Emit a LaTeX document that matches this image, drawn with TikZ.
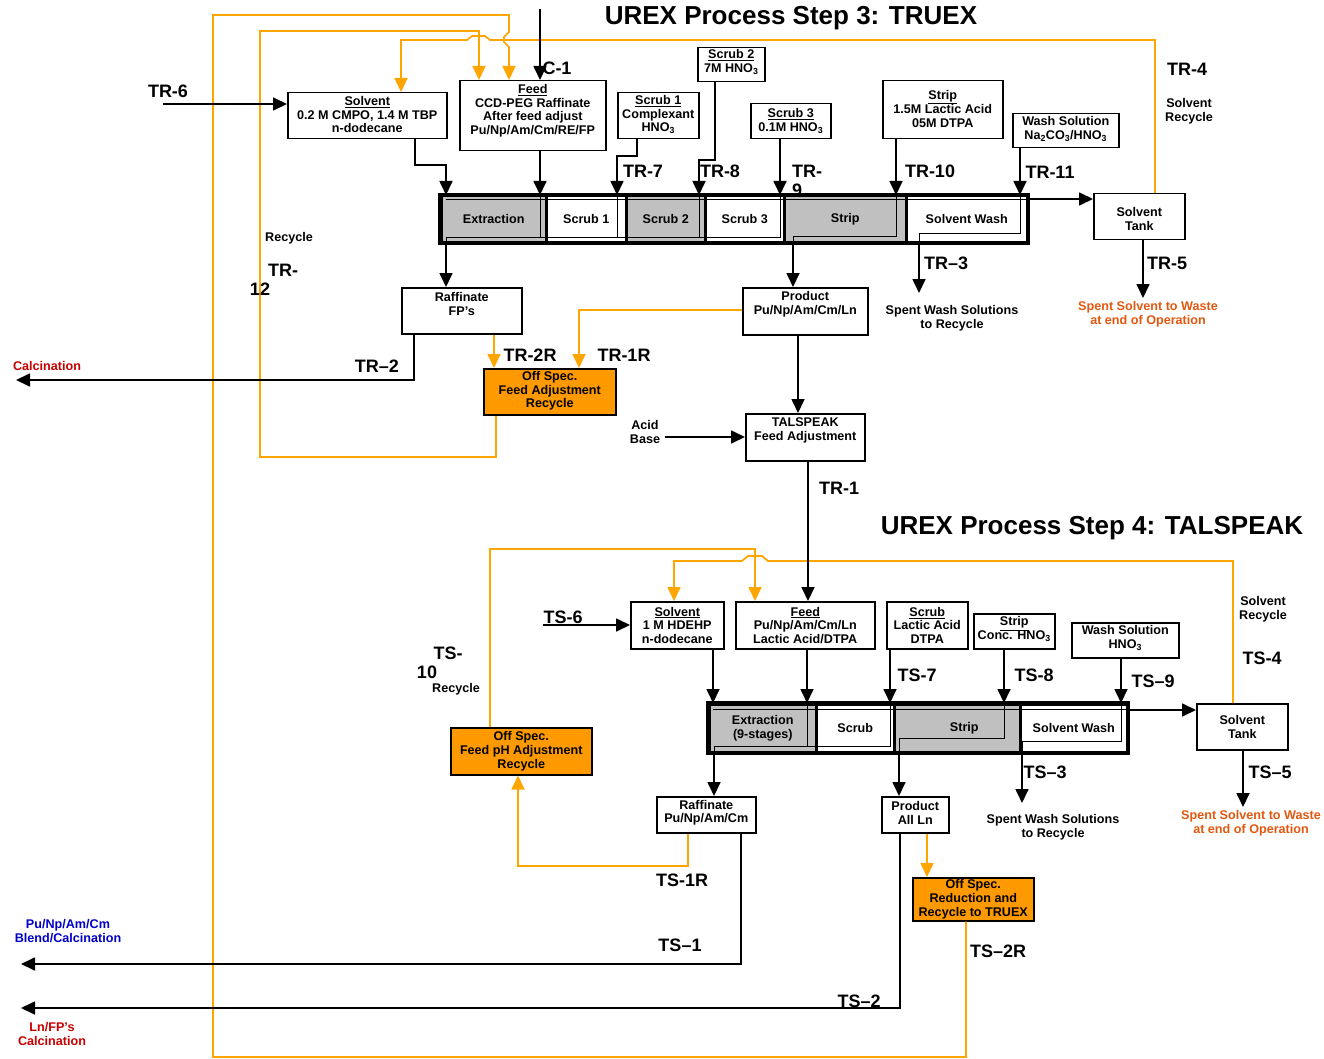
\documentclass[tikz,border=0pt]{standalone}
\usepackage{fontspec}
\setmainfont{Liberation Sans}
\usetikzlibrary{arrows.meta}
\definecolor{orng}{RGB}{255,165,0}
\definecolor{orfill}{RGB}{255,153,0}
\definecolor{bankgray}{RGB}{192,192,192}
\definecolor{wastecol}{RGB}{226,88,16}
\definecolor{calcred}{RGB}{200,0,0}
\definecolor{calcblue}{RGB}{0,0,200}
\newcommand\pbox[8][box]{%
  \node[#1, minimum width=#5pt, minimum height=#6pt, anchor=north west] (#2) at (#3,#4) {};
  \node[btxt] at ([yshift=#7pt]#2.center) {#8};}
\begin{document}
\begin{tikzpicture}[x=1pt,y=-1pt,
  box/.style={draw=black, line width=1.5pt, fill=white, inner sep=0pt},
  offbox/.style={box, fill=orfill},
  btxt/.style={font=\bfseries\fontsize{12.6}{13.6}\selectfont, align=center, inner sep=0pt},
  lbl/.style={font=\bfseries\fontsize{18}{18}\selectfont, inner sep=0pt},
  ttl/.style={font=\bfseries\fontsize{26}{26}\selectfont, inner sep=0pt},
  seg/.style={draw=black, line width=2.5pt, inner sep=0pt, anchor=north west, btxt},
  gseg/.style={seg, fill=bankgray},
  wseg/.style={seg, fill=white},
  flow/.style={draw=black, line width=1.7pt, -{Triangle[length=14pt,width=13pt]}},
  oflow/.style={draw=orng, line width=1.7pt, -{Triangle[length=14pt,width=13pt]}},
  thinflow/.style={draw=black, line width=0.8pt},
]
\useasboundingbox (0,0) rectangle (1324,1059);
\fill[white] (0,0) rectangle (1324,1059);

% ---------------- titles
\node[ttl] (title3) at (791,18) {UREX Process Step 3: TRUEX};
\node[ttl] (title4) at (1092,528) {UREX Process Step 4: TALSPEAK};

% ---------------- TRUEX boxes
\pbox{trsolv}{287}{92}{159}{46}{1}{\underline{Solvent}\\0.2 M CMPO, 1.4 M TBP\\n-dodecane}
\pbox{trfeed}{459}{80}{146}{70}{5}{\underline{Feed}\\CCD-PEG Raffinate\\After feed adjust\\Pu/Np/Am/Cm/RE/FP}
\pbox{trscra}{617}{92}{81}{46}{1}{\underline{Scrub 1}\\Complexant\\HNO\textsubscript{3}}
\pbox{trscrb}{697}{47}{67}{34}{3}{\underline{Scrub 2}\\7M HNO\textsubscript{3}}
\pbox{trscrc}{750}{103}{80}{35}{0}{\underline{Scrub 3}\\0.1M HNO\textsubscript{3}}
\pbox{trstrip}{882}{80}{120}{58}{1}{\underline{Strip}\\1.5M Lactic Acid\\05M DTPA}
\pbox{trwashs}{1012}{113}{106}{34}{1.5}{Wash Solution\\Na\textsubscript{2}CO\textsubscript{3}/HNO\textsubscript{3}}
\pbox{trtank}{1093}{193}{91}{46}{-2}{Solvent\\Tank}
\pbox{trraf}{401}{287}{120}{46}{7}{Raffinate\\FP's}
\pbox{trprod}{742}{287}{125}{47}{7}{Product\\Pu/Np/Am/Cm/Ln}
\pbox{tal}{745}{413}{119}{47}{7}{TALSPEAK\\Feed Adjustment}
\pbox[offbox]{troff}{483}{368}{132}{46}{1}{Off Spec.\\Feed Adjustment\\Recycle}

% ---------------- TRUEX contactor bank
\node[gseg, minimum width=105pt, minimum height=46pt] (trext) at (440,195) {Extraction};
\node[wseg, minimum width=80pt, minimum height=46pt] (trsa) at (545,195) {Scrub 1};
\node[gseg, minimum width=79pt, minimum height=46pt] (trsb) at (625,195) {Scrub 2};
\node[wseg, minimum width=79pt, minimum height=46pt] (trsc) at (704,195) {Scrub 3};
\node[gseg, minimum width=122pt, minimum height=46pt] (trstr) at (783,195) {Strip};
\node[wseg, minimum width=121pt, minimum height=46pt] (trwash) at (905,195) {Solvent Wash};
\draw[line width=3.5pt] (trext.north west) rectangle (trwash.south east);
\draw[thinflow] (446,199) -- (1026,199);
\draw[thinflow] (540,195) -- (540,237) (617,195) -- (617,237) (699,195) -- (699,237);
\draw[thinflow] (780,195) -- (780,237) -- (446,237) -- (446,241);
\draw[thinflow] (896,195) -- (896,236) -- (793,236) -- (793,241);
\draw[thinflow] (1020,195) -- (1020,233) -- (919,233) -- (919,241);

% ---------------- TALSPEAK boxes
\pbox{tssolv}{630}{601}{93}{47}{0}{\underline{Solvent}\\1 M HDEHP\\n-dodecane}
\pbox{tsfeed}{735}{601}{139}{47}{0}{\underline{Feed}\\Pu/Np/Am/Cm/Ln\\Lactic Acid/DTPA}
\pbox{tsscrb}{886}{601}{81}{47}{0}{\underline{Scrub}\\Lactic Acid\\DTPA}
\pbox{tsstrb}{973}{613}{81}{35}{2}{\underline{Strip}\\Conc. HNO\textsubscript{3}}
\pbox{tswashs}{1071}{622}{107}{35}{2}{Wash Solution\\HNO\textsubscript{3}}
\pbox{tstank}{1196}{703}{91}{46}{0}{Solvent\\Tank}
\pbox{tsraf}{656}{796}{99}{36}{2}{Raffinate\\Pu/Np/Am/Cm}
\pbox{tsprod}{881}{796}{67}{36}{2}{Product\\All Ln}
\pbox[offbox]{tsoffph}{450}{727}{141}{47}{0}{Off Spec.\\Feed pH Adjustment\\Recycle}
\pbox[offbox]{tsred}{912}{877}{121}{43}{0}{Off Spec.\\Reduction and\\Recycle to TRUEX}

% ---------------- TALSPEAK contactor bank
\node[gseg, minimum width=107pt, minimum height=48pt] (tsext) at (708,703) {Extraction\\(9-stages)};
\node[wseg, minimum width=78pt, minimum height=48pt] (tsscr) at (815,703) {Scrub};
\node[gseg, minimum width=126pt, minimum height=48pt, text width=126pt, align=center] (tsstr) at (893,703) {\hspace*{14pt}Strip};
\node[wseg, minimum width=107pt, minimum height=48pt] (tswash) at (1019,703) {Solvent Wash};
\draw[line width=3.5pt] (tsext.north west) rectangle (tswash.south east);
\draw[thinflow] (713,709) -- (1126,709);
\draw[thinflow] (807,703) -- (807,746);
\draw[thinflow] (890,703) -- (890,746) -- (714,746) -- (714,751);
\draw[thinflow] (1004,703) -- (1004,738) -- (899,738) -- (899,751);
\draw[thinflow] (1121,703) -- (1121,741) -- (1022,741) -- (1022,751);

% ---------------- free ends
\coordinate (tr6start) at (163,104);
\coordinate (c1start) at (540,9);
\coordinate (tr3end) at (919,293);
\coordinate (tr5end) at (1143,298);
\coordinate (calcend) at (16,380);
\coordinate (acid) at (665,437);
\coordinate (ts6start) at (543,625);
\coordinate (ts3end) at (1022,803);
\coordinate (ts5end) at (1243,807);
\coordinate (ts1end) at (21,964);
\coordinate (ts2end) at (21,1008);

% ---------------- orange recycle lines
\draw[oflow] (966,0 |- tsred.south) -- (966,1057) -- (213,1057) -- (213,15) -- (509,15) -- (509,32) -- (504,37) -- (504,42) -- (509,47) -- (509,0 |- trfeed.north);
\draw[oflow] (496,0 |- troff.south) -- (496,457) -- (260,457) -- (260,31) -- (479,31) -- (479,0 |- trfeed.north);
\draw[oflow] (1155,0 |- trtank.north) -- (1155,40) -- (490,40) -- (485,36) -- (472,36) -- (467,40) -- (401,40) -- (401,0 |- trsolv.north);
\draw[oflow] (494,0 |- trraf.south) -- (494,0 |- troff.north);
\draw[oflow] (trprod.west |- 0,310) -- (579,310) -- (579,0 |- troff.north);
\draw[oflow] (490,0 |- tsoffph.north) -- (490,549) -- (755,549) -- (755,0 |- tsfeed.north);
\draw[oflow] (1233,0 |- tstank.north) -- (1233,561) -- (768,561) -- (762,556) -- (748,556) -- (742,561) -- (674,561) -- (674,0 |- tssolv.north);
\draw[oflow] (688,0 |- tsraf.south) -- (688,866) -- (518,866) -- (518,0 |- tsoffph.south);
\draw[oflow] (927,0 |- tsprod.south) -- (927,0 |- tsred.north);

% ---------------- black flows TRUEX
\draw[flow] (tr6start) -- (trsolv.west |- tr6start);
\draw[flow] (c1start) -- (540,0 |- trfeed.north);
\draw[flow] (415,0 |- trsolv.south) -- (415,165) -- (446,165) -- (446,0 |- trext.north);
\draw[flow] (540,0 |- trfeed.south) -- (540,0 |- trext.north);
\draw[flow] (637,0 |- trscra.south) -- (637,156) -- (617,156) -- (617,0 |- trsa.north);
\draw[flow] (715,0 |- trscrb.south) -- (715,160) -- (699,160) -- (699,0 |- trsb.north);
\draw[flow] (780,0 |- trscrc.south) -- (780,0 |- trsc.north);
\draw[flow] (896,0 |- trstrip.south) -- (896,0 |- trstr.north);
\draw[flow] (1020,0 |- trwashs.south) -- (1020,0 |- trwash.north);
\draw[flow] (trwash.east |- 0,199) -- (trtank.west |- 0,199);
\draw[flow] (446,0 |- trext.south) -- (446,0 |- trraf.north);
\draw[flow] (793,0 |- trstr.south) -- (793,0 |- trprod.north);
\draw[flow] (919,0 |- trwash.south) -- (tr3end);
\draw[flow] (1143,0 |- trtank.south) -- (tr5end);
\draw[flow] (414,0 |- trraf.south) -- (414,380) -- (calcend);
\draw[flow] (798,0 |- trprod.south) -- (798,0 |- tal.north);
\draw[flow] (acid) -- (tal.west |- acid);
\draw[flow] (808,0 |- tal.south) -- (808,0 |- tsfeed.north);

% ---------------- black flows TALSPEAK
\draw[flow] (ts6start) -- (tssolv.west |- ts6start);
\draw[flow] (713,0 |- tssolv.south) -- (713,0 |- tsext.north);
\draw[flow] (807,0 |- tsfeed.south) -- (807,0 |- tsext.north);
\draw[flow] (890,0 |- tsscrb.south) -- (890,0 |- tsscr.north);
\draw[flow] (1004,0 |- tsstrb.south) -- (1004,0 |- tsstr.north);
\draw[flow] (1121,0 |- tswashs.south) -- (1121,0 |- tswash.north);
\draw[flow] (tswash.east |- 0,710) -- (tstank.west |- 0,710);
\draw[flow] (714,0 |- tsext.south) -- (714,0 |- tsraf.north);
\draw[flow] (899,0 |- tsstr.south) -- (899,0 |- tsprod.north);
\draw[flow] (1022,0 |- tswash.south) -- (ts3end);
\draw[flow] (1243,0 |- tstank.south) -- (ts5end);
\draw[flow] (741,0 |- tsraf.south) -- (741,964) -- (ts1end);
\draw[flow] (900,0 |- tsprod.south) -- (900,1008) -- (ts2end);

% ---------------- stream labels TRUEX
\node[lbl] (lc1) at (557,68) {C-1};
\node[lbl] (ltr6) at (168,91) {TR-6};
\node[lbl] (ltr7) at (643,171) {TR-7};
\node[lbl] (ltr8) at (720,171) {TR-8};
\node[lbl] (ltr9a) at (807,171) {TR-};
\node[lbl] (ltr9b) at (797,190) {9};
\node[lbl] (ltr10) at (930,171) {TR-10};
\node[lbl] (ltr11) at (1050,172) {TR-11};
\node[lbl] (ltr4) at (1187,69) {TR-4};
\node[lbl] (ltr3) at (946,263) {TR–3};
\node[lbl] (ltr5) at (1167,263) {TR-5};
\node[lbl] (ltr2) at (377,366) {TR–2};
\node[lbl] (ltr2r) at (530,355) {TR-2R};
\node[lbl] (ltr1r) at (624,355) {TR-1R};
\node[lbl] (ltr1) at (839,488) {TR-1};
\node[lbl] (ltr12a) at (283,270) {TR-};
\node[lbl] (ltr12b) at (260,289) {12};
\node[btxt] (trrec) at (289,238) {Recycle};
\node[btxt] (trsolrec) at (1189,111) {Solvent\\Recycle};
\node[btxt] (trspw) at (952,318) {Spent Wash Solutions\\to Recycle};
\node[btxt, text=wastecol] (trsps) at (1148,314) {Spent Solvent to Waste\\at end of Operation};
\node[btxt, text=calcred] (trcalc) at (47,366) {Calcination};
\node[btxt] (acidtxt) at (645,432) {Acid\\Base};

% ---------------- stream labels TALSPEAK
\node[lbl] (lts6) at (563,617) {TS-6};
\node[lbl] (lts10a) at (448,653) {TS-};
\node[lbl] (lts10b) at (427,672) {10};
\node[btxt] (tsrec) at (456,689) {Recycle};
\node[lbl] (lts7) at (917,675) {TS-7};
\node[lbl] (lts8) at (1034,675) {TS-8};
\node[lbl] (lts9) at (1153,681) {TS–9};
\node[lbl] (lts4) at (1262,658) {TS-4};
\node[lbl] (lts3) at (1045,772) {TS–3};
\node[lbl] (lts5) at (1270,772) {TS–5};
\node[lbl] (lts1r) at (682,880) {TS-1R};
\node[lbl] (lts1) at (680,945) {TS–1};
\node[lbl] (lts2) at (859,1001) {TS–2};
\node[lbl] (lts2r) at (998,951) {TS–2R};
\node[btxt] (tssolrec) at (1263,609) {Solvent\\Recycle};
\node[btxt] (tsspw) at (1053,827) {Spent Wash Solutions\\to Recycle};
\node[btxt, text=wastecol] (tssps) at (1251,823) {Spent Solvent to Waste\\at end of Operation};
\node[btxt, text=calcblue] (tsblend) at (68,931) {Pu/Np/Am/Cm\\Blend/Calcination};
\node[btxt, text=calcred] (tslnfp) at (52,1034) {Ln/FP's\\Calcination};
\end{tikzpicture}
\end{document}
